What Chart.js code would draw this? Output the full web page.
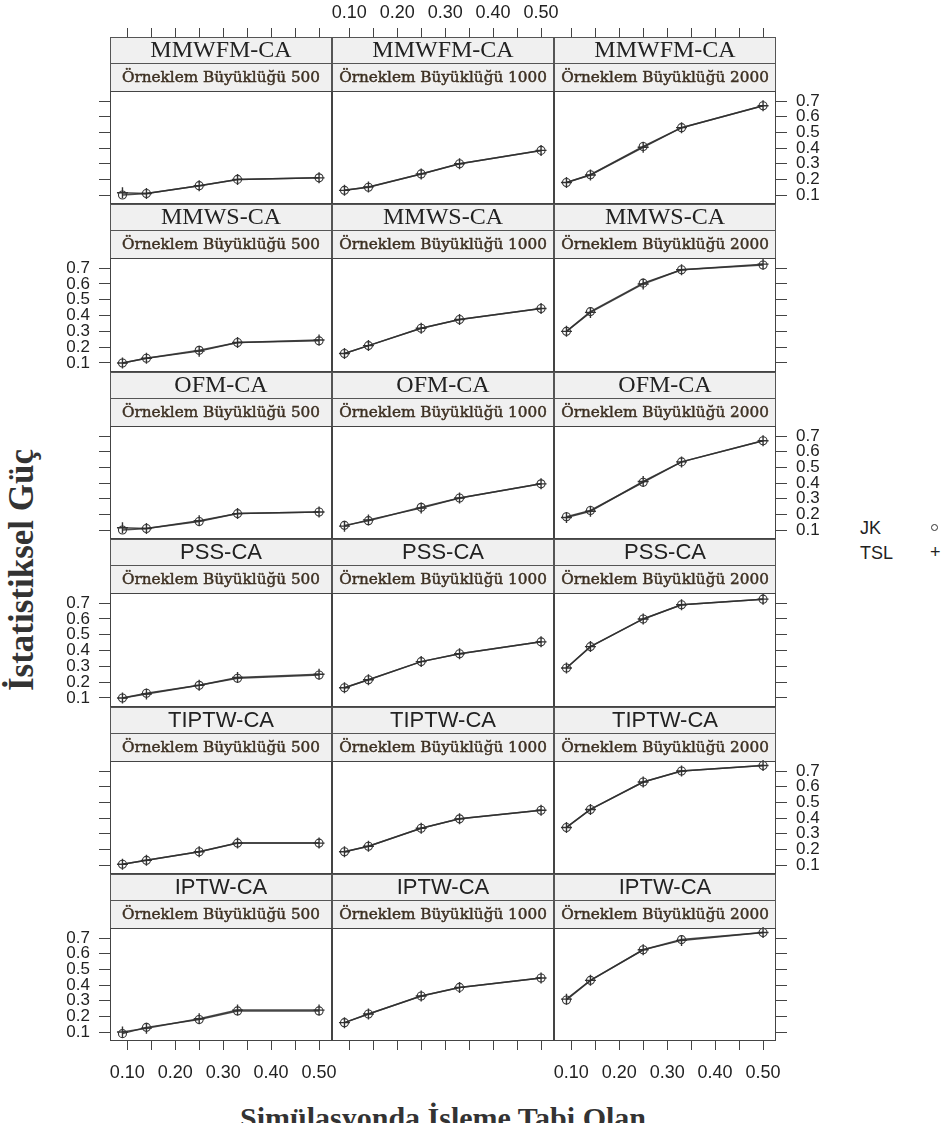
<!DOCTYPE html>
<html>
<head>
<meta charset="utf-8">
<script src="https://cdn.jsdelivr.net/npm/chart.js@4.4.1/dist/chart.umd.min.js"></script>
<style>
  body { margin: 0; background: #fff; width: 941px; height: 1133px; position: relative; overflow: hidden; }
  canvas { position: absolute; }
  .ytitle {
    position: absolute; left: 22px; top: 570px; white-space: nowrap;
    transform: translate(-50%, -50%) rotate(-90deg);
    font: bold 35px "Liberation Serif", serif; color: #333;
  }
  .xtitle {
    position: absolute; left: 0; width: 886px; top: 1101px; height: 22px; overflow: hidden;
    text-align: center; font: bold 30px "Liberation Serif", serif; line-height: 34px; color: #333;
  }
  .leg { position: absolute; font: 18px "Liberation Sans", sans-serif; color: #222; line-height: 20px; }
  .dot { position: absolute; width: 5px; height: 5px; border: 1px solid #333; border-radius: 50%; }
</style>
</head>
<body>
<div class="ytitle">İstatistiksel Güç</div>
<div class="xtitle">Simülasyonda İşleme Tabi Olan</div>
<div class="leg" style="left:860px; top:518px;">JK</div>
<div class="dot" style="left:931px; top:524px;"></div>
<div class="leg" style="left:860px; top:543px;">TSL</div>
<div class="leg" style="left:930px; top:542px;">+</div>

<script>
// oranlar (x ekseni)
const treatRatio = [0.09, 0.14, 0.25, 0.33, 0.50];
const methods = ['MMWFM-CA', 'MMWS-CA', 'OFM-CA', 'PSS-CA', 'TIPTW-CA', 'IPTW-CA'];
const sampleSizes = [500, 1000, 2000];
const xTicks = [0.10, 0.15, 0.20, 0.25, 0.30, 0.35, 0.40, 0.45, 0.50];
const yTicks = [0.1, 0.2, 0.3, 0.4, 0.5, 0.6, 0.7];

// güç değerleri: [500, 1000, 2000]
const jkMMWFM = [[0.10, 0.11, 0.16, 0.20, 0.21], [0.13, 0.15, 0.235, 0.30, 0.385], [0.18, 0.23, 0.41, 0.53, 0.67]];
const tslMMWFM = [[0.115, 0.11, 0.16, 0.20, 0.21], [0.13, 0.152, 0.235, 0.30, 0.385], [0.18, 0.228, 0.405, 0.53, 0.67]];
const jkMMWS = [[0.10, 0.13, 0.18, 0.23, 0.24], [0.16, 0.21, 0.32, 0.375, 0.445], [0.30, 0.425, 0.605, 0.69, 0.72]];
const tslMMWS = [[0.10, 0.13, 0.175, 0.23, 0.245], [0.16, 0.21, 0.32, 0.375, 0.445], [0.30, 0.42, 0.60, 0.69, 0.725]];
const jkOFM = [[0.10, 0.11, 0.155, 0.205, 0.215], [0.13, 0.16, 0.245, 0.305, 0.395], [0.185, 0.225, 0.405, 0.535, 0.67]];
const tslOFM = [[0.115, 0.11, 0.16, 0.205, 0.215], [0.125, 0.165, 0.24, 0.305, 0.395], [0.18, 0.22, 0.41, 0.535, 0.67]];
const jkPSS = [[0.10, 0.13, 0.18, 0.225, 0.245], [0.165, 0.215, 0.33, 0.38, 0.455], [0.29, 0.425, 0.60, 0.69, 0.725]];
const tslPSS = [[0.10, 0.125, 0.18, 0.23, 0.25], [0.165, 0.215, 0.33, 0.38, 0.455], [0.29, 0.425, 0.60, 0.69, 0.725]];
const jkTIPTW = [[0.105, 0.13, 0.185, 0.24, 0.24], [0.185, 0.22, 0.335, 0.395, 0.45], [0.34, 0.455, 0.63, 0.70, 0.735]];
const tslTIPTW = [[0.105, 0.13, 0.185, 0.24, 0.24], [0.185, 0.22, 0.335, 0.395, 0.45], [0.34, 0.455, 0.63, 0.70, 0.735]];
const jkIPTW = [[0.09, 0.13, 0.18, 0.235, 0.235], [0.16, 0.215, 0.33, 0.385, 0.445], [0.305, 0.43, 0.625, 0.69, 0.735]];
const tslIPTW = [[0.10, 0.125, 0.185, 0.24, 0.24], [0.16, 0.215, 0.33, 0.385, 0.445], [0.31, 0.43, 0.625, 0.685, 0.735]];

const jkAll = [jkMMWFM, jkMMWS, jkOFM, jkPSS, jkTIPTW, jkIPTW];
const tslAll = [tslMMWFM, tslMMWS, tslOFM, tslPSS, tslTIPTW, tslIPTW];

// yerleşim
const COL_X = [110, 332, 554, 776];
const ROW_Y = [37, 204, 372, 539, 707, 874, 1041];
const STRIP1 = 26, STRIP2 = 28;
const M_SIDE = 70, M_TOP = 45, M_BOTTOM = 55;
const X_MIN = 0.064, X_MAX = 0.527;
const Y_MIN = 0.043, Y_TOP = 0.764;
const INK = '#444';

let stripFontSize = null;
function stripSize(ctx) {
  if (stripFontSize) return stripFontSize;
  ctx.font = '13px "DejaVu Serif"';
  const w = ctx.measureText('Örneklem Büyüklüğü 500').width;
  stripFontSize = 13 * 198 / w;
  return stripFontSize;
}

const stripPlugin = {
  id: 'strips',
  beforeDatasetsDraw(chart) {
    const o = chart.options.plugins.strips;
    const { ctx, chartArea: a } = chart;
    ctx.save();
    ctx.fillStyle = '#f0f0f0';
    ctx.fillRect(a.left, a.top, a.right - a.left, STRIP1 + STRIP2);
    ctx.strokeStyle = '#555';
    ctx.lineWidth = 1;
    ctx.strokeRect(a.left + 0.5, a.top + 0.5, a.right - a.left - 1, STRIP1);
    ctx.strokeRect(a.left + 0.5, a.top + STRIP1 + 0.5, a.right - a.left - 1, STRIP2);
    const cx = (a.left + a.right) / 2;
    ctx.textAlign = 'center';
    ctx.textBaseline = 'middle';
    ctx.fillStyle = '#222';
    ctx.font = o.serif ? '24px "Liberation Serif"' : '22px "Liberation Sans"';
    ctx.fillText(o.method, cx, a.top + STRIP1 / 2 + 1);
    const fs = stripSize(ctx);
    ctx.font = fs.toFixed(2) + 'px "DejaVu Serif"';
    ctx.fillStyle = '#3d3022';
    ctx.strokeStyle = '#3d3022';
    ctx.lineWidth = 0.45;
    const label = 'Örneklem Büyüklüğü ' + o.n;
    ctx.fillText(label, cx, a.top + STRIP1 + STRIP2 / 2 + 1);
    ctx.strokeText(label, cx, a.top + STRIP1 + STRIP2 / 2 + 1);
    ctx.restore();
  },
  afterDatasetsDraw(chart) {
    const { ctx, chartArea: a } = chart;
    ctx.save();
    ctx.strokeStyle = INK;
    ctx.lineWidth = 1;
    ctx.strokeRect(a.left + 0.5, a.top + STRIP1 + STRIP2 + 0.5, a.right - a.left - 1, a.bottom - a.top - STRIP1 - STRIP2 - 1);
    ctx.restore();
  }
};

function xAxis(pos, showTicks, showLabels, size) {
  return {
    type: 'linear', position: pos, min: X_MIN, max: X_MAX,
    afterBuildTicks: s => { s.ticks = xTicks.map(v => ({ value: v })); },
    afterFit: s => { s.height = size; },
    border: { display: false },
    grid: { display: showTicks, drawOnChartArea: false, tickLength: 9, color: INK, tickColor: INK },
    ticks: {
      display: showLabels, autoSkip: false, maxRotation: 0, padding: pos === 'top' ? 4 : 12,
      color: '#222', font: { family: 'Liberation Sans', size: 18 },
      callback: v => (Math.abs(v * 10 - Math.round(v * 10)) < 1e-6 ? v.toFixed(2) : '')
    }
  };
}

function yAxis(pos, yMax, showTicks, showLabels) {
  return {
    type: 'linear', position: pos, min: Y_MIN, max: yMax,
    afterBuildTicks: s => { s.ticks = yTicks.map(v => ({ value: v })); },
    afterFit: s => { s.width = M_SIDE; },
    border: { display: false },
    grid: { display: showTicks, drawOnChartArea: false, tickLength: 11, color: INK, tickColor: INK },
    ticks: {
      display: showLabels, autoSkip: false, padding: 9,
      color: '#222', font: { family: 'Liberation Sans', size: 17, lineHeight: 1 },
      callback: v => v.toFixed(1)
    }
  };
}

function makePanel(r, c) {
  const w = COL_X[c + 1] - COL_X[c];
  const h = ROW_Y[r + 1] - ROW_Y[r];
  const canvas = document.createElement('canvas');
  canvas.width = w + 2 * M_SIDE;
  canvas.height = h + M_TOP + M_BOTTOM;
  canvas.style.left = (COL_X[c] - M_SIDE) + 'px';
  canvas.style.top = (ROW_Y[r] - M_TOP) + 'px';
  document.body.appendChild(canvas);

  const yMax = Y_MIN + (Y_TOP - Y_MIN) * h / (h - STRIP1 - STRIP2);
  const toPts = arr => arr.map((v, i) => ({ x: treatRatio[i], y: v }));

  new Chart(canvas, {
    type: 'line',
    data: {
      datasets: [
        {
          label: 'JK', data: toPts(jkAll[r][c]),
          borderColor: 'rgba(45,45,45,0.85)', borderWidth: 1.5,
          pointStyle: 'circle', pointRadius: 4, pointBorderWidth: 1.1,
          pointBorderColor: '#333', pointBackgroundColor: 'rgba(0,0,0,0)',
          xAxisID: 'x', yAxisID: 'y'
        },
        {
          label: 'TSL', data: toPts(tslAll[r][c]),
          borderColor: 'rgba(45,45,45,0.85)', borderWidth: 1.5,
          pointStyle: 'cross', pointRadius: 5.5, pointBorderWidth: 1.4,
          pointBorderColor: '#333',
          xAxisID: 'x', yAxisID: 'y'
        }
      ]
    },
    options: {
      responsive: false,
      animation: false,
      devicePixelRatio: 1,
      layout: { padding: 0 },
      scales: {
        x: xAxis('bottom', r === 5, r === 5 && c !== 1, M_BOTTOM),
        xTop: xAxis('top', r === 0, r === 0 && c === 1, M_TOP),
        y: yAxis('left', yMax, c === 0, c === 0 && r % 2 === 1),
        yRight: yAxis('right', yMax, c === 2, c === 2 && r % 2 === 0)
      },
      plugins: {
        legend: { display: false },
        tooltip: { enabled: false },
        strips: { method: methods[r], n: sampleSizes[c], serif: r < 3 }
      }
    },
    plugins: [stripPlugin]
  });
}

for (let r = 0; r < methods.length; r++) {
  for (let c = 0; c < sampleSizes.length; c++) {
    makePanel(r, c);
  }
}
</script>
</body>
</html>
